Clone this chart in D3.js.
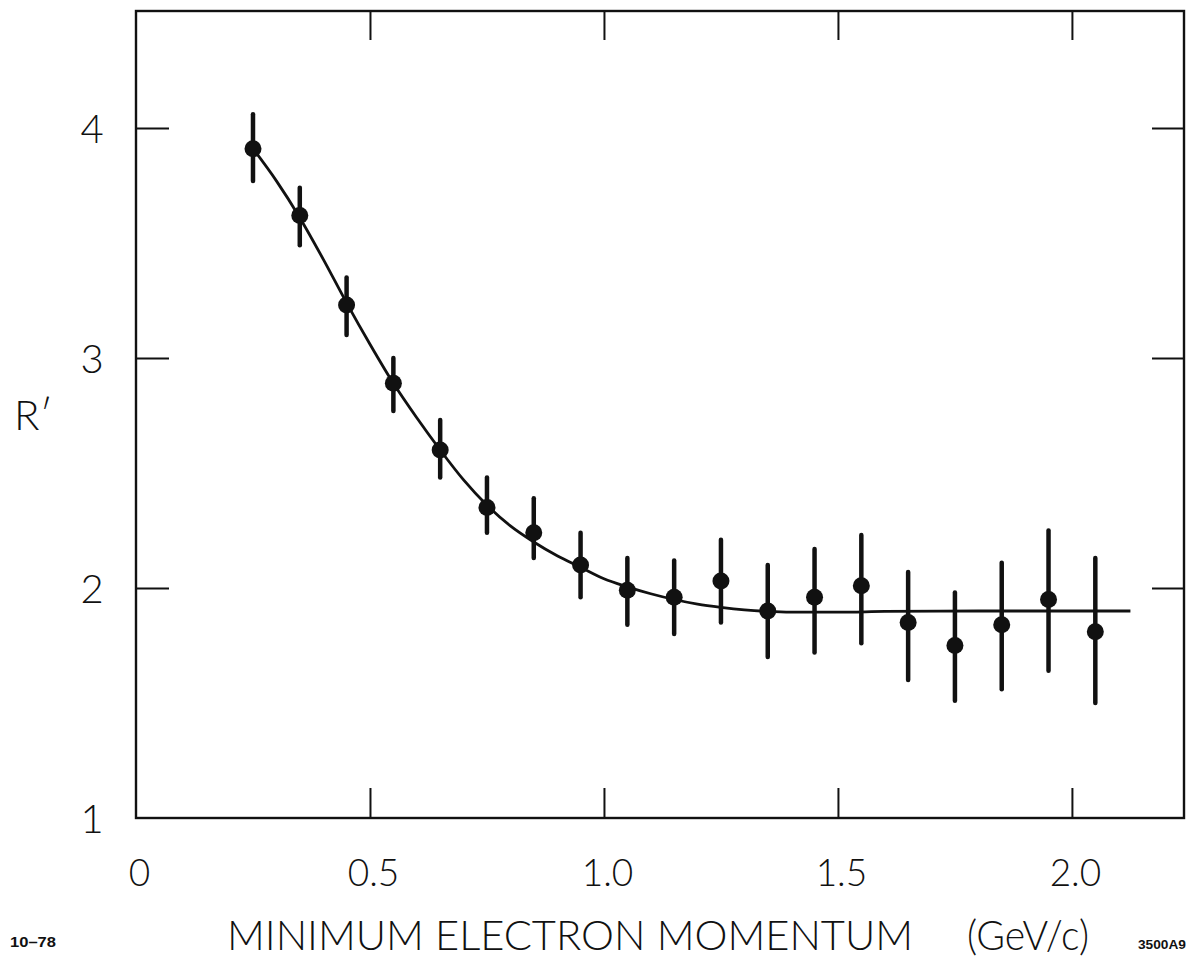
<!DOCTYPE html>
<html>
<head>
<meta charset="utf-8">
<script src="https://cdn.jsdelivr.net/npm/d3@7/dist/d3.min.js"></script>
<style>
  html, body { margin: 0; padding: 0; background: #fff; }
  svg { display: block; }
  .lab { font-family: Lato, "Open Sans", "DejaVu Sans", sans-serif; font-weight: 300; fill: #111; }
  .small { font-family: "Liberation Sans Narrow", "Liberation Sans", Arial, sans-serif; font-weight: 700; fill: #111; }
</style>
</head>
<body>
<svg id="chart" width="1193" height="962"></svg>
<script>
// Minimum electron momentum (GeV/c) of each measured point
const momentum = [0.25, 0.35, 0.45, 0.55, 0.65, 0.75, 0.85, 0.95, 1.05, 1.15,
                  1.25, 1.35, 1.45, 1.55, 1.65, 1.75, 1.85, 1.95, 2.05];
// Measured R'
const ratio = [3.91, 3.62, 3.23, 2.89, 2.60, 2.35, 2.24, 2.10, 1.99, 1.96,
               2.03, 1.90, 1.96, 2.01, 1.85, 1.75, 1.84, 1.95, 1.81];
// Upper and lower ends of each error bar
const errHigh = [4.06, 3.74, 3.35, 3.00, 2.73, 2.48, 2.39, 2.24, 2.13, 2.12,
                 2.21, 2.10, 2.17, 2.23, 2.07, 1.98, 2.11, 2.25, 2.13];
const errLow  = [3.77, 3.49, 3.10, 2.77, 2.48, 2.24, 2.13, 1.96, 1.84, 1.80,
                 1.85, 1.70, 1.72, 1.76, 1.60, 1.51, 1.56, 1.64, 1.50];
// Fitted curve
const curveMomentum = [0.25, 0.30, 0.35, 0.40, 0.45, 0.50, 0.55, 0.60, 0.65, 0.70,
                       0.75, 0.80, 0.85, 0.90, 0.95, 1.00, 1.05, 1.10, 1.15, 1.20,
                       1.25, 1.30, 1.35, 1.40, 1.50, 1.60, 1.80, 2.00, 2.125];
const curveRatio = [3.91, 3.77, 3.61, 3.43, 3.24, 3.06, 2.89, 2.74, 2.60, 2.47,
                    2.36, 2.27, 2.20, 2.14, 2.09, 2.04, 2.005, 1.975, 1.95, 1.93,
                    1.916, 1.905, 1.898, 1.895, 1.895, 1.898, 1.90, 1.90, 1.90];
// Axis ticks and labels
const xTicks = [0.5, 1.0, 1.5, 2.0];
const xLabelValues = [0, 0.5, 1.0, 1.5, 2.0];
const xLabels = ["0", "0.5", "1.0", "1.5", "2.0"];
const yTicks = [2, 3, 4];
const yLabelValues = [1, 2, 3, 4];
const yLabels = ["1", "2", "3", "4"];

const svg = d3.select("#chart");
const frameLeft = 136, frameRight = 1184, frameTop = 11, frameBottom = 818;

const x = d3.scaleLinear().domain([0, 2.2395]).range([frameLeft, frameRight]);
const y = d3.scaleLinear().domain([1, 4.5087]).range([frameBottom, frameTop]);

// Frame
svg.append("rect")
  .attr("x", frameLeft).attr("y", frameTop)
  .attr("width", frameRight - frameLeft).attr("height", frameBottom - frameTop)
  .attr("fill", "none").attr("stroke", "#111").attr("stroke-width", 2.4);

// Inward tick marks on all four sides
function tickAxis(axis, tx, ty) {
  const g = svg.append("g").attr("transform", `translate(${tx},${ty})`).call(axis);
  g.select(".domain").remove();
  g.selectAll("text").remove();
  g.selectAll("line").attr("stroke", "#111").attr("stroke-width", 2);
}
tickAxis(d3.axisBottom(x).tickValues(xTicks).tickSizeInner(-30).tickSizeOuter(0), 0, frameBottom);
tickAxis(d3.axisTop(x).tickValues(xTicks).tickSizeInner(-29).tickSizeOuter(0), 0, frameTop);
tickAxis(d3.axisLeft(y).tickValues(yTicks).tickSizeInner(-33).tickSizeOuter(0), frameLeft, 0);
tickAxis(d3.axisRight(y).tickValues(yTicks).tickSizeInner(-32).tickSizeOuter(0), frameRight, 0);

// Tick labels
const xLab = svg.append("g").attr("transform", `translate(3,${frameBottom})`)
  .call(d3.axisBottom(x).tickValues(xLabelValues).tickSize(0).tickPadding(42)
        .tickFormat((d, i) => xLabels[i]));
xLab.select(".domain").remove();
xLab.selectAll("text").attr("class", "lab").attr("font-size", 37).attr("fill", "#111");

const yLab = svg.append("g").attr("transform", `translate(${frameLeft},0)`)
  .call(d3.axisLeft(y).tickValues(yLabelValues).tickSize(0).tickPadding(32)
        .tickFormat((d, i) => yLabels[i]));
yLab.select(".domain").remove();
yLab.selectAll("text").attr("class", "lab").attr("font-size", 40).attr("fill", "#111")
  .attr("text-anchor", "middle").attr("x", -44).attr("dy", "0.36em");

// Axis titles
svg.append("text").attr("class", "lab")
  .attr("x", 14).attr("y", 430).attr("font-size", 42).text("R\u2032");
svg.append("text").attr("class", "lab")
  .attr("x", 227).attr("y", 950).attr("font-size", 42)
  .attr("textLength", 686).attr("lengthAdjust", "spacingAndGlyphs")
  .text("MINIMUM ELECTRON MOMENTUM");
svg.append("text").attr("class", "lab")
  .attr("x", 967).attr("y", 950).attr("font-size", 42)
  .attr("textLength", 122).attr("lengthAdjust", "spacingAndGlyphs")
  .text("(GeV/c)");

// Corner annotations
svg.append("text").attr("class", "small")
  .attr("x", 10).attr("y", 947).attr("font-size", 15)
  .attr("textLength", 46).attr("lengthAdjust", "spacingAndGlyphs").text("10\u201378");
svg.append("text").attr("class", "small")
  .attr("x", 1138).attr("y", 949).attr("font-size", 13)
  .attr("textLength", 48).attr("lengthAdjust", "spacingAndGlyphs").text("3500A9");

// Fitted curve
const curvePts = curveMomentum.map((m, i) => [m, curveRatio[i]]);
svg.append("path")
  .datum(curvePts)
  .attr("fill", "none").attr("stroke", "#111").attr("stroke-width", 2.8)
  .attr("d", d3.line().x(d => x(d[0])).y(d => y(d[1])).curve(d3.curveMonotoneX));

// Error bars and points
const pts = momentum.map((m, i) => ({ m, r: ratio[i], hi: errHigh[i], lo: errLow[i] }));
svg.append("g").selectAll("line").data(pts).join("line")
  .attr("x1", d => x(d.m)).attr("x2", d => x(d.m))
  .attr("y1", d => y(d.hi)).attr("y2", d => y(d.lo))
  .attr("stroke", "#111").attr("stroke-width", 4.5).attr("stroke-linecap", "round");
svg.append("g").selectAll("circle").data(pts).join("circle")
  .attr("cx", d => x(d.m)).attr("cy", d => y(d.r)).attr("r", 8.5)
  .attr("fill", "#111");
</script>
</body>
</html>
